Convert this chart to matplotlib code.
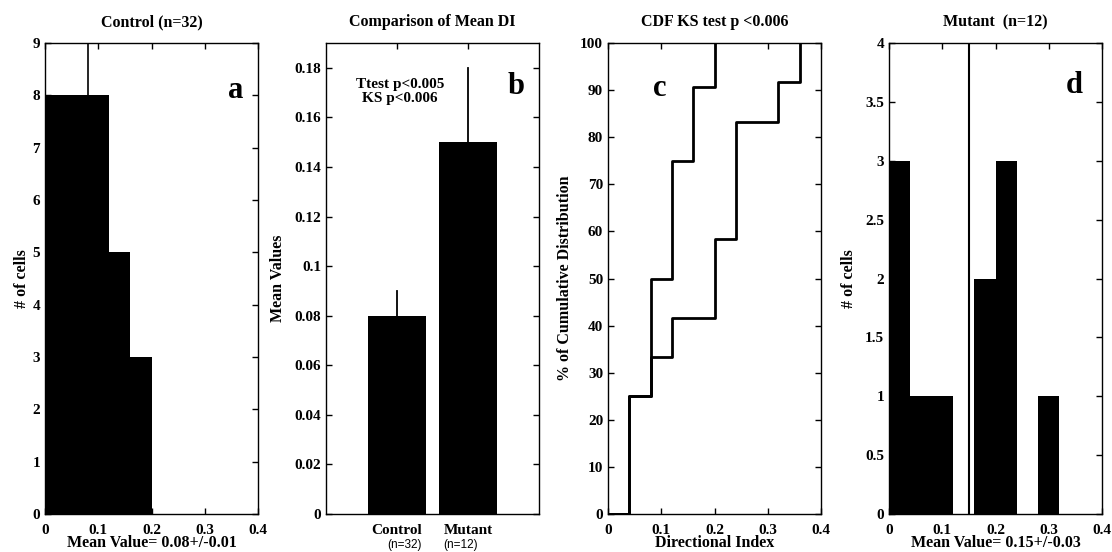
import numpy as np
import matplotlib
matplotlib.use("Agg")
import matplotlib.pyplot as plt
from matplotlib.ticker import FuncFormatter

plt.rcParams['font.family'] = ['Liberation Serif', 'DejaVu Serif']
plt.rcParams['font.weight'] = 'bold'

# histogram bins (width 0.04) and counts
bin_w = 0.04
ctrl_counts = [8, 8, 8, 5, 3]
mut_counts = [3, 1, 1, 0, 2, 3, 0, 1]
ctrl_mean, ctrl_sem = 0.08, 0.01
mut_mean, mut_sem = 0.15, 0.03

# bar comparison
groups = ['Control', 'Mutant']
group_n = ['(n=32)', '(n=12)']
means = [ctrl_mean, mut_mean]
errs = [ctrl_sem, mut_sem]

# cumulative distributions (%)
ctrl_cdf_x = [0, 0.04, 0.08, 0.12, 0.16, 0.20]
ctrl_cdf_y = [0, 25, 50, 75, 90.6, 100]
mut_cdf_x = [0, 0.04, 0.08, 0.12, 0.20, 0.24, 0.32, 0.36]
mut_cdf_y = [0, 25, 33.3, 41.7, 58.3, 83.3, 91.7, 100]

fmt = FuncFormatter(lambda v, p: f"{v:g}")
TICK_FS, LAB_FS, TITLE_FS = 11, 11.5, 11.5

fig = plt.figure(figsize=(11.12, 5.52), dpi=100)
W, H = 1112, 552
lefts = [45, 326, 608, 889]
axs = [fig.add_axes([l / W, (H - 514) / H, 213 / W, 471 / H]) for l in lefts]

for ax in axs:
    ax.tick_params(direction='in', top=True, right=True, length=4, width=1,
                   labelsize=TICK_FS)
    ax.tick_params(axis='x', pad=7)
    ax.tick_params(axis='y', pad=3.5)
    for s in ax.spines.values():
        s.set_linewidth(1)
    ax.yaxis.set_major_formatter(fmt)
    ax.xaxis.set_major_formatter(fmt)

def label_axes(ax, title, ylabel, ylab_x, xlabel=None):
    ax.set_title(title, fontsize=TITLE_FS, fontweight='bold', pad=12)
    ax.set_ylabel(ylabel, fontsize=LAB_FS, fontweight='bold')
    ax.yaxis.set_label_coords(ylab_x, 0.5)
    if xlabel:
        ax.set_xlabel(xlabel, fontsize=LAB_FS, fontweight='bold', labelpad=-1)

# a: control histogram
ax = axs[0]
edges = np.arange(len(ctrl_counts)) * bin_w
ax.bar(edges, ctrl_counts, width=bin_w, align='edge', color='black')
ax.axvline(ctrl_mean, color='black', lw=1.2)
ax.set_xlim(0, 0.4)
ax.set_ylim(0, 9)
ax.set_xticks(np.arange(0, 0.41, 0.1))
ax.set_yticks(range(0, 10))
label_axes(ax, 'Control (n=32)', '# of cells', -0.07,
           f'Mean Value= {ctrl_mean:g}+/-{ctrl_sem:g}')
ax.text(0.358, 8.1, 'a', fontsize=22, fontweight='bold', ha='center', va='center')

# b: mean comparison
ax = axs[1]
xpos = [1, 2]
n_shift = [0.11, -0.1]
ax.bar(xpos, means, width=0.82, color='black')
for x, m, e in zip(xpos, means, errs):
    ax.plot([x, x], [m, m + e], color='black', lw=1.3)
ax.set_xlim(0, 3)
ax.set_ylim(0, 0.19)
ax.set_yticks(np.arange(0, 0.181, 0.02))
ax.set_xticks(xpos)
ax.set_xticklabels(groups, fontsize=TICK_FS, fontweight='bold')
for x, dx, n in zip(xpos, n_shift, group_n):
    ax.text(x + dx, -0.054, n, fontsize=8.5, fontweight='normal',
            family='Liberation Sans', ha='center', va='top',
            transform=ax.get_xaxis_transform())
label_axes(ax, 'Comparison of Mean DI', 'Mean Values', -0.19)
ax.text(1.04, 0.1705, 'Ttest p<0.005\nKS p<0.006', fontsize=11,
        fontweight='bold', ha='center', va='center', linespacing=1.05)
ax.text(2.68, 0.1726, 'b', fontsize=22, fontweight='bold', ha='center', va='center')

# c: cumulative distributions
ax = axs[2]
ax.step(ctrl_cdf_x, ctrl_cdf_y, where='post', color='black', lw=2)
ax.step(mut_cdf_x, mut_cdf_y, where='post', color='black', lw=2)
ax.set_xlim(0, 0.4)
ax.set_ylim(0, 100)
ax.set_xticks(np.arange(0, 0.41, 0.1))
ax.set_yticks(range(0, 101, 10))
label_axes(ax, 'CDF KS test p <0.006', '% of Cumulative Distribution', -0.165,
           'Directional Index')
ax.text(0.098, 90.4, 'c', fontsize=22, fontweight='bold', ha='center', va='center')

# d: mutant histogram
ax = axs[3]
edges = np.arange(len(mut_counts)) * bin_w
ax.bar(edges, mut_counts, width=bin_w, align='edge', color='black')
ax.axvline(mut_mean, color='black', lw=1.5)
ax.set_xlim(0, 0.4)
ax.set_ylim(0, 4)
ax.set_xticks(np.arange(0, 0.41, 0.1))
ax.set_yticks(np.arange(0, 4.01, 0.5))
label_axes(ax, 'Mutant  (n=12)', '# of cells', -0.148,
           f'Mean Value= {mut_mean:g}+/-{mut_sem:g}')
ax.text(0.347, 3.64, 'd', fontsize=22, fontweight='bold', ha='center', va='center')

fig.savefig('out.png', dpi=100)
